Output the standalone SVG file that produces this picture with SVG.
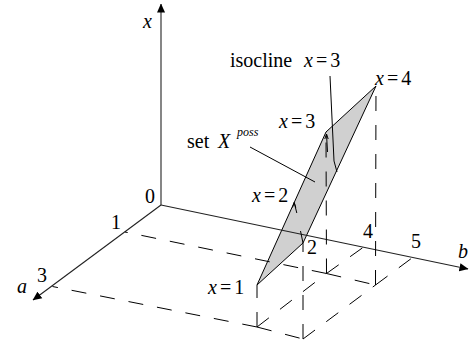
<svg xmlns="http://www.w3.org/2000/svg" width="469" height="340" viewBox="0 0 469 340">
<style>
text{font-family:"Liberation Serif","DejaVu Serif",serif;font-size:20px;fill:#000}
.i{font-style:italic}
.sup{font-style:italic;font-size:12px}
.ax{stroke:#222;stroke-width:1.1;fill:none}
.ln{stroke:#000;stroke-width:1;fill:none}
.d{stroke:#000;stroke-width:1;fill:none;stroke-dasharray:15 14}
.surf{fill:#d0d0d0;stroke:#000;stroke-width:1;stroke-linejoin:round}
</style>
<defs>
<marker id="ah" viewBox="0 0 10 10" refX="9.5" refY="5" markerWidth="9" markerHeight="9" markerUnits="userSpaceOnUse" orient="auto">
<path d="M0,0.5 L10,5 L0,9.5 Z" fill="#000"/>
</marker>
</defs>
<g id="surface">
<polygon class="surf" points="257,285 303,243 376,86 326,132"/>
</g>
<g id="connectors">
<line class="ax" x1="161" y1="205" x2="161" y2="4" marker-end="url(#ah)"/>
<line class="ax" x1="161" y1="205" x2="33" y2="300" marker-end="url(#ah)"/>
<line class="ax" x1="161" y1="205" x2="468" y2="269" marker-end="url(#ah)"/>
<line class="d" x1="326.5" y1="273.5" x2="125" y2="232"/>
<line class="d" x1="257" y1="327" x2="52.5" y2="286.5"/>
<line class="d" x1="257" y1="327" x2="303" y2="339"/>
<line class="d" x1="257" y1="327" x2="326.5" y2="273.5"/>
<line class="d" x1="303" y1="339" x2="375.5" y2="285"/>
<line class="d" x1="326.5" y1="273.5" x2="375.5" y2="285"/>
<line class="d" x1="326.5" y1="273.5" x2="363" y2="247.5"/>
<line class="d" x1="375.5" y1="285" x2="412" y2="258"/>
<line class="d" x1="257" y1="327" x2="257" y2="285"/>
<line class="d" x1="303" y1="339" x2="303" y2="243"/>
<line class="d" x1="326.5" y1="273.5" x2="326" y2="132"/>
<line class="d" x1="375.5" y1="285" x2="376" y2="86"/>
<line class="ln" x1="250" y1="147" x2="315" y2="182"/>
<polyline class="ln" points="330,76 334,161 337,172"/>
<polyline class="ln" points="324.8,139 326.5,134 328.2,139"/>
<line class="ln" x1="326.5" y1="134" x2="327.5" y2="152"/>
<polyline class="ln" points="292.5,207.5 294.2,202.5 295.8,207.5"/>
<line class="ln" x1="294.2" y1="202.5" x2="296.8" y2="213"/>
<line class="ln" x1="300.5" y1="231" x2="303" y2="243"/>
</g>
<g id="labels" font-family="Liberation Serif, DejaVu Serif, serif" font-size="20">
<text class="i" x="143" y="28">x</text>
<text x="230" y="67">isocline</text>
<text x="304" y="67"><tspan class="i">x</tspan><tspan dx="3">=</tspan><tspan dx="3">3</tspan></text>
<text x="375" y="85"><tspan class="i">x</tspan><tspan dx="3">=</tspan><tspan dx="3">4</tspan></text>
<text x="279" y="128"><tspan class="i">x</tspan><tspan dx="3">=</tspan><tspan dx="3">3</tspan></text>
<text x="187" y="148">set</text>
<text class="i" x="218" y="148">X</text>
<text class="sup" x="237" y="136">poss</text>
<text x="252" y="202"><tspan class="i">x</tspan><tspan dx="3">=</tspan><tspan dx="3">2</tspan></text>
<text x="208" y="294"><tspan class="i">x</tspan><tspan dx="3">=</tspan><tspan dx="3">1</tspan></text>
<text x="145" y="203">0</text>
<text x="111" y="229">1</text>
<text x="37" y="282">3</text>
<text class="i" x="17" y="293">a</text>
<text x="307" y="254">2</text>
<text x="363" y="238">4</text>
<text x="411" y="248">5</text>
<text class="i" x="458" y="258">b</text>
</g>
</svg>
